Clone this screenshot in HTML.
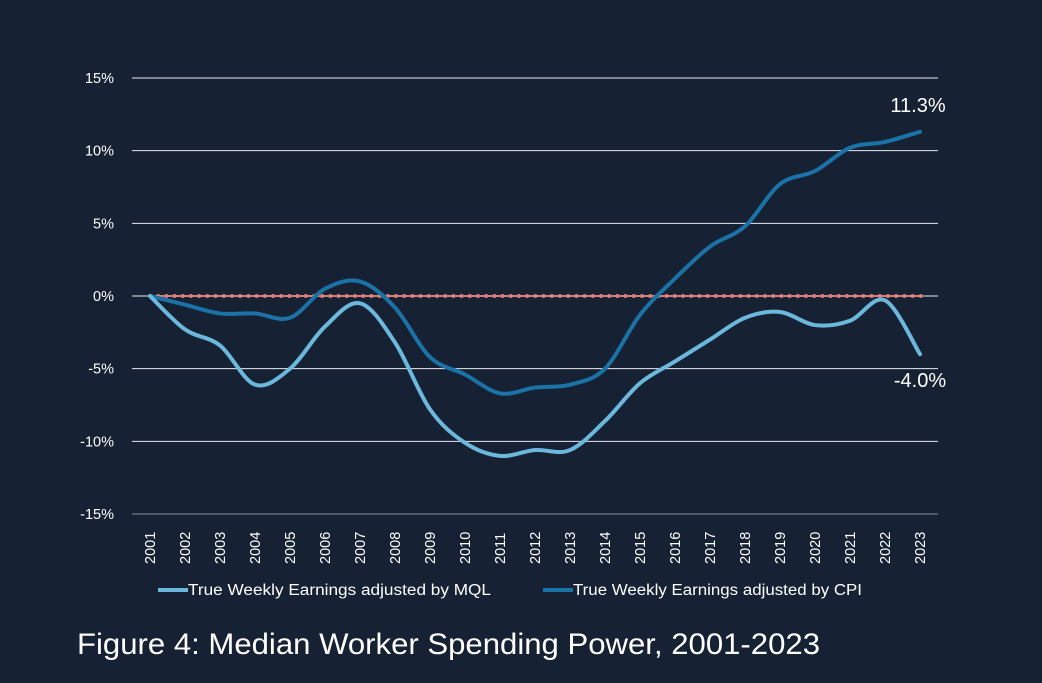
<!DOCTYPE html>
<html><head><meta charset="utf-8"><style>
body{margin:0;background:#162133;}
svg{display:block;font-family:"Liberation Sans",sans-serif;}
</style></head><body>
<svg id="chart" width="1042" height="683" viewBox="0 0 1042 683">
<rect width="1042" height="683" fill="#162133"/>
<g id="grid"></g><g id="lines"></g>
<text x="77" y="654" fill="#ffffff" font-size="30" textLength="743" lengthAdjust="spacingAndGlyphs">Figure 4: Median Worker Spending Power, 2001-2023</text>
<g><line x1="158" y1="590" x2="188" y2="590" stroke="#6bb8dc" stroke-width="4"/><text x="188" y="595" fill="#fff" font-size="15.5" textLength="303" lengthAdjust="spacingAndGlyphs">True Weekly Earnings adjusted by MQL</text></g>
<g><line x1="543" y1="590" x2="573" y2="590" stroke="#1a72a6" stroke-width="4"/><text x="573" y="595" fill="#fff" font-size="15.5" textLength="289" lengthAdjust="spacingAndGlyphs">True Weekly Earnings adjusted by CPI</text></g>
</svg>
<script>
const years=[2001,2002,2003,2004,2005,2006,2007,2008,2009,2010,2011,2012,2013,2014,2015,2016,2017,2018,2019,2020,2021,2022,2023];
const mql=[0,-2.3,-3.4,-6.1,-5.0,-2.1,-0.5,-3.2,-7.8,-10.1,-11.0,-10.6,-10.6,-8.6,-6.0,-4.5,-3.0,-1.5,-1.1,-2.0,-1.7,-0.3,-4.0];
const cpi=[0,-0.6,-1.2,-1.2,-1.5,0.5,1.0,-0.8,-4.2,-5.4,-6.7,-6.3,-6.1,-5.0,-1.3,1.2,3.4,4.8,7.7,8.6,10.2,10.6,11.3];
const yTicks=[15,10,5,0,-5,-10,-15];
const NS='http://www.w3.org/2000/svg';
const x=i=>150+i*35;
const y=v=>296-v*14.533;
const grid=document.getElementById('grid'),lines=document.getElementById('lines');
function mk(tag,attrs,parent){const e=document.createElementNS(NS,tag);for(const k in attrs)e.setAttribute(k,attrs[k]);parent.appendChild(e);return e;}
yTicks.forEach(t=>{
 const l=mk('line',{x1:132,x2:938,y1:y(t),y2:y(t),stroke:t===-15?'#8a8f99':'#e8ecf0','stroke-width':1},grid);
 
 
 const tx=mk('text',{x:114,y:y(t)+5,'text-anchor':'end',fill:'#fff','font-size':14.5},grid);
 tx.textContent=t+'%';
 
 
});
years.forEach((yr,i)=>{
 const tx=mk('text',{transform:`translate(${x(i)+5},564) rotate(-90)`,fill:'#fff','font-size':14.5},grid);
 tx.textContent=yr;
 
 
});
const zl=mk('line',{x1:150,x2:922,y1:y(0),y2:y(0),stroke:'#d9807a','stroke-width':2},lines);


for(let px=150;px<=922;px+=8.2){const c=mk('circle',{cx:px,cy:y(0),r:2,fill:'#d9807a'},lines);
 
 }
function path(vals){
 const p=vals.map((v,i)=>[x(i),y(v)]);let d=`M${p[0][0]},${p[0][1]}`;
 for(let i=0;i<p.length-1;i++){const p0=p[i-1]||p[i],p1=p[i],p2=p[i+1],p3=p[i+2]||p2;
  d+=` C${p1[0]+(p2[0]-p0[0])/6},${p1[1]+(p2[1]-p0[1])/6} ${p2[0]-(p3[0]-p1[0])/6},${p2[1]-(p3[1]-p1[1])/6} ${p2[0]},${p2[1]}`;}
 return d;}
const lc=mk('path',{d:path(cpi),fill:'none',stroke:'#1a72a6','stroke-width':4,'stroke-linecap':'round'},lines);


const lm=mk('path',{d:path(mql),fill:'none',stroke:'#6bb8dc','stroke-width':4,'stroke-linecap':'round'},lines);


const n=years.length-1;
const a1=mk('text',{x:918,y:y(cpi[n])-20,'text-anchor':'middle',fill:'#fff','font-size':20},lines);
a1.textContent=cpi[n].toFixed(1)+'%';


const a2=mk('text',{x:920,y:y(mql[n])+33,'text-anchor':'middle',fill:'#fff','font-size':20},lines);
a2.textContent=mql[n].toFixed(1)+'%';


</script>
</body></html>
